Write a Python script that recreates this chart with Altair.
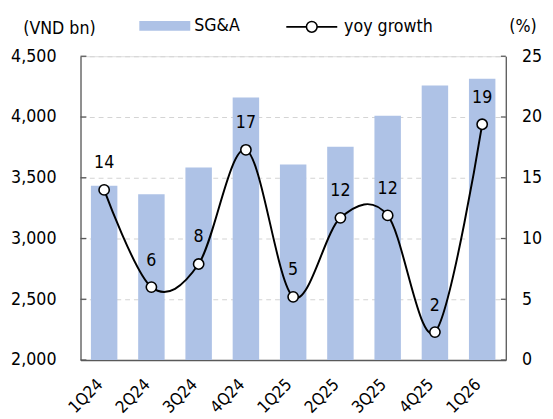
import altair as alt
import pandas as pd

quarters = ["1Q24", "2Q24", "3Q24", "4Q24", "1Q25", "2Q25", "3Q25", "4Q25", "1Q26"]
sga = [3435, 3365, 3585, 4160, 3610, 3755, 4010, 4260, 4315]
growth = [14.0, 6.0, 7.9, 17.3, 5.2, 11.7, 11.9, 2.3, 19.4]
left_ticks = [2000, 2500, 3000, 3500, 4000, 4500]
right_ticks = [0, 5, 10, 15, 20, 25]

df = pd.DataFrame({"q": quarters, "sga": sga, "g": growth})
tdf = pd.DataFrame({"sga": left_ticks})

FONT = "DejaVu Sans Condensed"
FS = 18
W, H = 434, 310
BAR = "#AEC2E6"
AX = "#595959"

x = alt.X(
    "q:N", sort=quarters,
    scale=alt.Scale(paddingInner=0.44, paddingOuter=0.22),
    axis=alt.Axis(title=None, labelAngle=-45, ticks=False, domainColor=AX, domainWidth=1.3,
                  labelPadding=22, labelOffset=-4, labelFontSize=17, labelColor="black",
                  labelFont=FONT, labelAlign="right", labelBaseline="middle"),
)

yl = alt.Y(
    "sga:Q",
    scale=alt.Scale(domain=[2000, 4500], zero=False, nice=False),
    axis=alt.Axis(values=left_ticks, labelExpr="format(datum.value, ',')", grid=True,
                  gridDash=[5, 4], gridColor="#D4D4D4",
                  gridWidth=1.2, ticks=False, domainColor=AX, domainWidth=1.3, labelPadding=25,
                  labelFontSize=FS, labelColor="black", labelFont=FONT,
                  title="(VND bn)", titleAngle=0, titleX=-59, titleY=-28, titleAlign="left",
                  titleBaseline="middle", titleFontWeight="normal", titleFontSize=FS,
                  titleFont=FONT, titleColor="black"),
)

bars = alt.Chart(df).transform_calculate(s='"SG&A"').mark_bar(width=27).encode(
    x=x,
    y=yl,
    y2=alt.datum(2000),
    color=alt.Color("s:N", scale=alt.Scale(domain=["SG&A"], range=[BAR]),
                    legend=alt.Legend(title=None, orient="none", legendX=60, legendY=-57,
                                      symbolType="M-1,-0.19H1V0.19H-1Z", symbolSize=2704,
                                      symbolStrokeWidth=0, labelFontSize=FS, labelFont=FONT,
                                      labelColor="black", labelOffset=4, padding=0)),
)

ltick = alt.Chart(tdf).mark_rule(color=AX, strokeWidth=1.3).encode(
    y=yl, x=alt.value(0), x2=alt.value(6)
)
rtick = alt.Chart(tdf).mark_rule(color=AX, strokeWidth=1.3).encode(
    y=yl, x=alt.value(W - 5), x2=alt.value(W)
)

yr = alt.Y(
    "g:Q",
    scale=alt.Scale(domain=[0, 25], nice=False, zero=True),
    axis=alt.Axis(orient="right", values=right_ticks, grid=False, ticks=False, domainColor=AX,
                  domainWidth=1.3, labelPadding=16, labelFontSize=FS, labelColor="black",
                  labelFont=FONT, title="(%)", titleAngle=0, titleX=3, titleY=-30,
                  titleAlign="left", titleBaseline="middle", titleFontWeight="normal",
                  titleFontSize=FS, titleFont=FONT, titleColor="black"),
)

line = alt.Chart(df).transform_calculate(s2='"yoy growth"').mark_line(
    interpolate="cardinal", tension=0, strokeWidth=2
).encode(
    x=x,
    y=yr,
    stroke=alt.Stroke("s2:N", scale=alt.Scale(domain=["yoy growth"], range=["black"]),
                      legend=alt.Legend(title=None, orient="none", legendX=209, legendY=-57,
                                        symbolType="M-1,0H-0.21M0.21,0H1M-0.21,0A0.21,0.21 0 1,0 0.21,0A0.21,0.21 0 1,0 -0.21,0",
                                        symbolSize=2704, symbolStrokeWidth=1.6,
                                        symbolFillColor="white", labelFontSize=FS,
                                        labelFont=FONT, labelColor="black", labelOffset=6,
                                        padding=0)),
)

points = alt.Chart(df).mark_point(
    shape="circle", filled=False, fill="white", stroke="black", strokeWidth=1.6, size=110, opacity=1
).encode(x=x, y=yr)

labels = alt.Chart(df).mark_text(dy=-27, fontSize=FS, font=FONT, color="black").encode(
    x=x, y=yr, text=alt.Text("g:Q", format=".0f")
)

chart = alt.layer(
    alt.layer(bars, ltick, rtick),
    alt.layer(line, points, labels),
).resolve_scale(y="independent").properties(
    width=W, height=H,
    autosize=alt.AutoSizeParams(type="none"),
    padding={"left": 74, "top": 45, "right": 40, "bottom": 58},
).configure_view(stroke=None).configure(font=FONT)

chart.save("out.html", embed_options={"renderer": "svg", "actions": False})
